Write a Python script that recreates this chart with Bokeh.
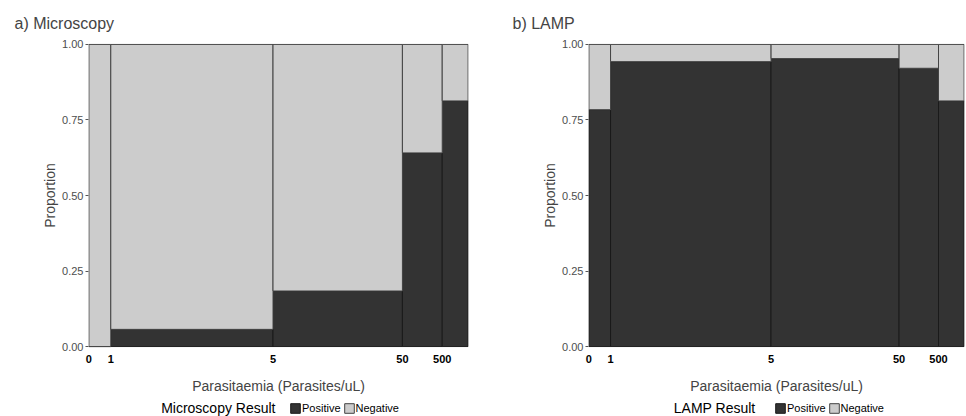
from bokeh.plotting import figure
from bokeh.layouts import row, column
from bokeh.models import FixedTicker, Legend, LegendItem, Range1d, Label
from bokeh.embed import file_html
from bokeh.resources import INLINE

# Parasitaemia groups (left edges labelled), relative group sizes (bar widths)
group_labels = ["0", "1", "5", "50", "500"]
group_width = [22, 163, 130, 40, 26]

# Proportion positive per group
microscopy_positive = [0.0, 0.057, 0.184, 0.641, 0.813]
lamp_positive = [0.784, 0.943, 0.953, 0.921, 0.813]

# Legend entries
result_labels = ["Positive", "Negative"]

DARK = "#333333"
LIGHT = "#cccccc"
DARK_LINE = "#1a1a1a"
LIGHT_LINE = "#444444"
FONT = "Liberation Sans"
MAIN_H = 396
LEG_H = 20


def make_panel(title, positive, width, border_left, border_right, title_offset):
    lefts = []
    acc = 0
    for w in group_width:
        lefts.append(acc)
        acc += w
    rights = [l + w for l, w in zip(lefts, group_width)]
    total = acc

    p = figure(width=width, height=MAIN_H, output_backend="svg", toolbar_location=None,
               x_range=Range1d(-0.4, total + 0.4), y_range=Range1d(-0.003, 1.003),
               min_border_left=border_left, min_border_right=border_right,
               min_border_top=43, min_border_bottom=49)
    p.title.text = title
    p.title.text_font = FONT
    p.title.text_font_size = "16px"
    p.title.text_font_style = "normal"
    p.title.align = "left"
    p.title.offset = title_offset
    p.title.standoff = 23

    p.quad(left=lefts, right=rights, bottom=[0] * len(positive), top=positive,
           fill_color=DARK, line_color=DARK_LINE, line_width=1)
    p.quad(left=lefts, right=rights, bottom=positive, top=[1] * len(positive),
           fill_color=LIGHT, line_color=LIGHT_LINE, line_width=1)

    p.grid.visible = False
    p.outline_line_color = None
    p.background_fill_color = "white"

    p.xaxis.ticker = FixedTicker(ticks=lefts)
    p.xaxis.major_label_overrides = {l: lab for l, lab in zip(lefts, group_labels)}
    p.xaxis.axis_line_color = None
    p.xaxis.major_tick_line_color = None
    p.xaxis.minor_tick_line_color = None
    p.xaxis.major_label_text_font = FONT
    p.xaxis.major_label_text_font_size = "11px"
    p.xaxis.major_label_text_font_style = "bold"
    p.xaxis.major_label_text_color = "black"
    p.xaxis.major_label_standoff = 1
    p.xaxis.axis_label = "Parasitaemia (Parasites/uL)"
    p.xaxis.axis_label_text_font = FONT
    p.xaxis.axis_label_text_font_size = "14px"
    p.xaxis.axis_label_text_font_style = "normal"
    p.xaxis.axis_label_standoff = 12

    yt = [0, 0.25, 0.5, 0.75, 1.0]
    p.yaxis.ticker = FixedTicker(ticks=yt)
    p.yaxis.major_label_overrides = {v: f"{v:.2f}" for v in yt}
    p.yaxis.axis_line_color = None
    p.yaxis.major_tick_line_color = "#555555"
    p.yaxis.major_tick_out = 3
    p.yaxis.major_tick_in = 0
    p.yaxis.minor_tick_line_color = None
    p.yaxis.major_label_text_font = FONT
    p.yaxis.major_label_text_font_size = "11px"
    p.yaxis.major_label_text_color = "#4d4d4d"
    p.yaxis.major_label_standoff = 2
    p.yaxis.axis_label = "Proportion"
    p.yaxis.axis_label_text_font = FONT
    p.yaxis.axis_label_text_font_size = "14px"
    p.yaxis.axis_label_text_font_style = "normal"
    p.yaxis.axis_label_standoff = 1
    return p


def make_legend(width, legend_title, title_right, glyph_left):
    lf = figure(width=width, height=LEG_H, output_backend="svg", toolbar_location=None,
                x_range=Range1d(0, width), y_range=Range1d(0, LEG_H),
                min_border=0)
    lf.axis.visible = False
    lf.grid.visible = False
    lf.outline_line_color = None
    # legend key renderers, kept outside the visible range
    r_pos = lf.quad(left=[-20], right=[-10], bottom=[-20], top=[-10],
                    fill_color=DARK, line_color=DARK_LINE, line_width=1)
    r_neg = lf.quad(left=[-20], right=[-10], bottom=[-20], top=[-10],
                    fill_color=LIGHT, line_color=LIGHT_LINE, line_width=1)
    legend = Legend(items=[LegendItem(label=result_labels[0], renderers=[r_pos]),
                           LegendItem(label=result_labels[1], renderers=[r_neg])],
                    orientation="horizontal", location=(glyph_left, 2))
    legend.label_text_font = FONT
    legend.label_text_font_size = "11px"
    legend.label_text_color = "black"
    legend.label_standoff = 1
    legend.glyph_width = 12
    legend.glyph_height = 12
    legend.spacing = 2
    legend.padding = 0
    legend.margin = 0
    legend.border_line_alpha = 0
    legend.background_fill_alpha = 0
    legend.label_height = 12
    lf.add_layout(legend, "center")
    lf.add_layout(Label(x=title_right, y=9, text=legend_title,
                        text_font=FONT, text_font_size="14px", text_align="right",
                        text_baseline="middle", text_color="black"))
    return lf


p1 = make_panel("a) Microscopy", microscopy_positive, 500, 88, 32, -74)
p2 = make_panel("b) LAMP", lamp_positive, 466, 88, 2, -76)
l1 = make_legend(500, "Microscopy Result", 275, 289)
l2 = make_legend(466, "LAMP Result", 255, 274)

p = column(row(p1, p2), row(l1, l2))
open("out.html", "w").write(file_html(p, INLINE))
